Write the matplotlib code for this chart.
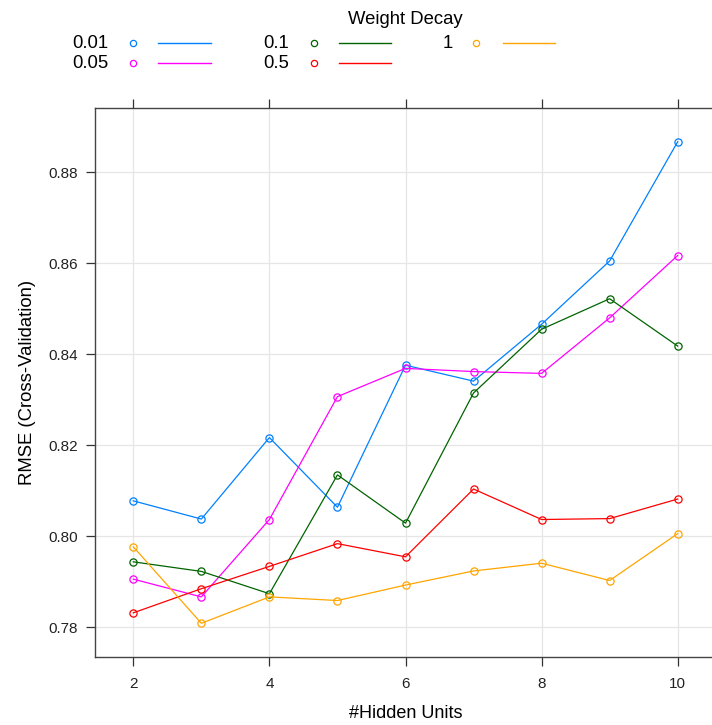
import numpy as np
import matplotlib
matplotlib.use("Agg")
import matplotlib.pyplot as plt
from matplotlib.lines import Line2D

plt.rcParams['font.family'] = ['Liberation Sans', 'DejaVu Sans']

# number of hidden units on the x axis
hidden_units = [2, 3, 4, 5, 6, 7, 8, 9, 10]

# RMSE per weight decay value
decay_labels = ['0.01', '0.05', '0.1', '0.5', '1']
rmse_001 = [0.8078, 0.8038, 0.8217, 0.8064, 0.8376, 0.8341, 0.8466, 0.8605, 0.8867]
rmse_005 = [0.7906, 0.7867, 0.8037, 0.8307, 0.8369, 0.8362, 0.8358, 0.8480, 0.8617]
rmse_01 = [0.7944, 0.7923, 0.7874, 0.8135, 0.8029, 0.8315, 0.8455, 0.8522, 0.8418]
rmse_05 = [0.7832, 0.7885, 0.7934, 0.7984, 0.7955, 0.8104, 0.8037, 0.8039, 0.8082]
rmse_1 = [0.7977, 0.7809, 0.7867, 0.7859, 0.7893, 0.7924, 0.7941, 0.7903, 0.8006]

x_ticks = [2, 4, 6, 8, 10]
y_ticks = [0.78, 0.80, 0.82, 0.84, 0.86, 0.88]

series = [rmse_001, rmse_005, rmse_01, rmse_05, rmse_1]
colors = ['#0080ff', '#ff00ff', '#006400', '#ff0000', '#ffa500']

W, H = 712, 725
fig = plt.figure(figsize=(W / 100, H / 100), dpi=100)
ax = fig.add_axes([95.2 / W, 68 / H, 620.6 / W, 549 / H])

for vals, col in zip(series, colors):
    ax.plot(hidden_units, vals, color=col, lw=0.9, marker='o', markersize=5.2,
            markerfacecolor='none', markeredgecolor=col, markeredgewidth=0.9)

# lattice style 7% padding around the data
allv = np.concatenate([np.array(s) for s in series])
ypad = 0.07 * (allv.max() - allv.min())
xpad = 0.07 * (max(hidden_units) - min(hidden_units))
ax.set_xlim(min(hidden_units) - xpad, max(hidden_units) + xpad)
ax.set_ylim(allv.min() - ypad, allv.max() + ypad)

ax.set_xticks(x_ticks)
ax.set_yticks(y_ticks)
ax.set_yticklabels([f"{v:.2f}" for v in y_ticks])
ax.grid(True, color='#e6e6e6', lw=0.9)
ax.set_axisbelow(True)

for side in ['left', 'top', 'bottom']:
    ax.spines[side].set_color('#444444')
    ax.spines[side].set_linewidth(1.0)
ax.spines['right'].set_visible(False)

ax.tick_params(axis='both', direction='out', length=6.5, width=0.9, color='#333333',
               labelsize=11, labelcolor='#222222', pad=6)
ax.tick_params(axis='x', top=True, labeltop=False, pad=8)
ax.tick_params(axis='y', right=False)

ax.set_xlabel('#Hidden Units', fontsize=13, labelpad=10)
ax.set_ylabel('RMSE (Cross-Validation)', fontsize=13.3, labelpad=9)

# legend drawn by hand in pixel coordinates, lattice "key" layout
def px(x, y):
    return x / W, 1 - y / H

fig.text(*px(405, 20), 'Weight Decay', fontsize=13.3, ha='center', va='center')
col_x = [(72, 133, 158, 211), (263, 314, 339, 391), (443, 476, 503, 555)]
row_y = [43, 63]
for i, (lab, col) in enumerate(zip(decay_labels, colors)):
    lx, cx, l0, l1 = col_x[i // 2]
    yy = row_y[i % 2]
    fig.text(*px(lx, yy), lab, fontsize=13.3, ha='left', va='center')
    fig.add_artist(Line2D([cx / W], [1 - yy / H], marker='o', markersize=4.5,
                          markerfacecolor='none', markeredgecolor=col,
                          markeredgewidth=0.9, transform=fig.transFigure))
    fig.add_artist(Line2D([l0 / W, l1 / W], [1 - yy / H, 1 - yy / H], color=col,
                          lw=1.0, transform=fig.transFigure))

fig.savefig('out.png', dpi=100)
